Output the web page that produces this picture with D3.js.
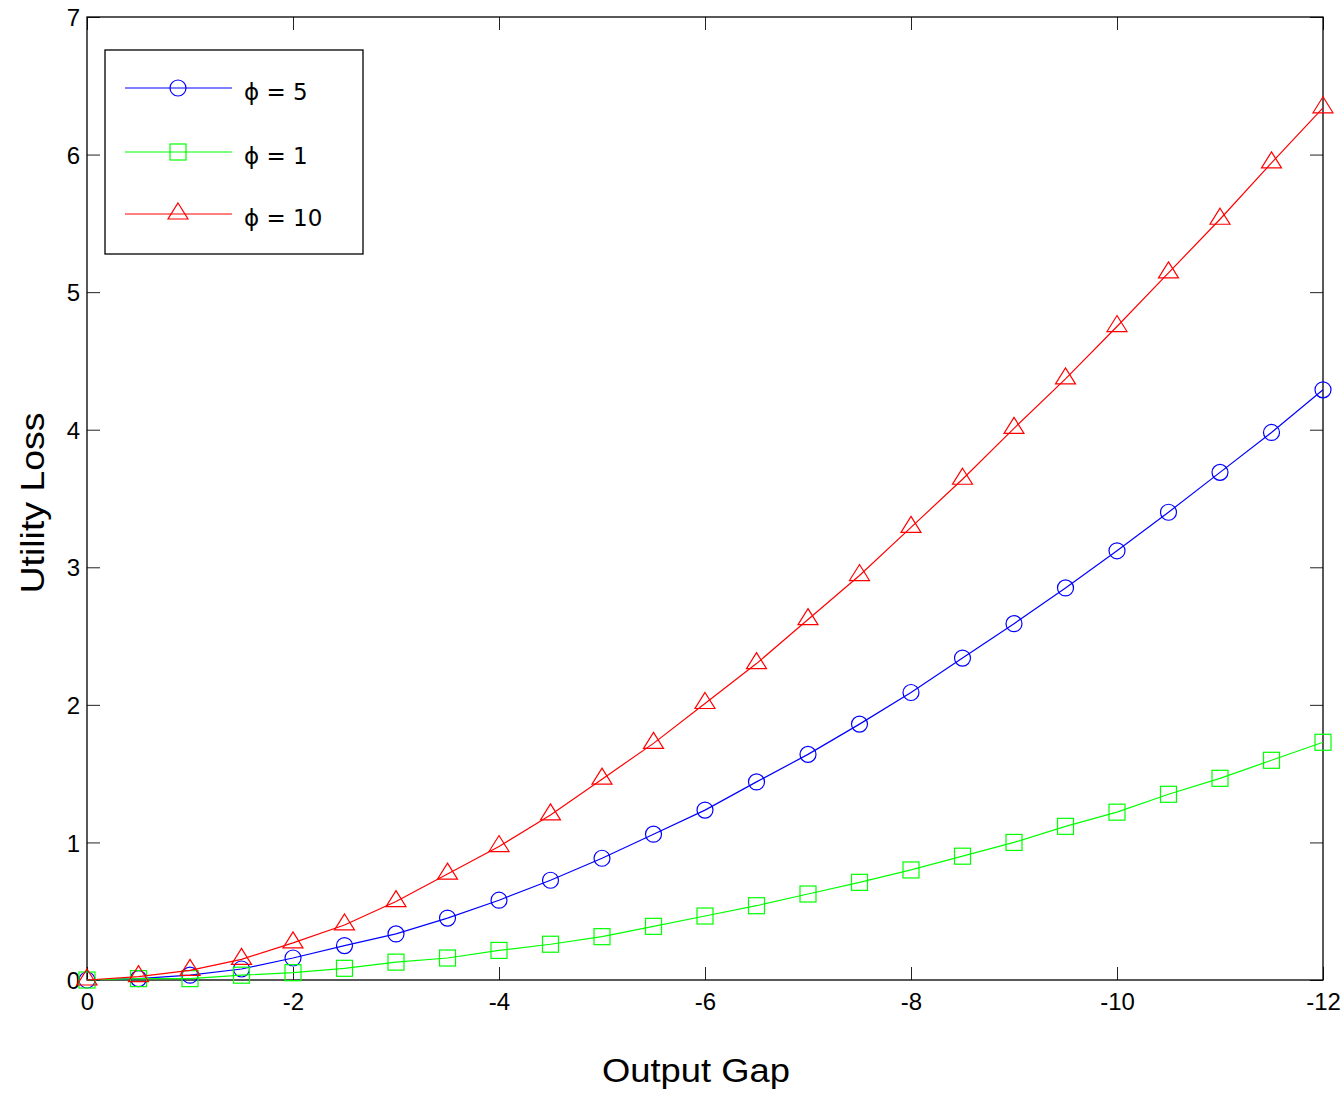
<!DOCTYPE html>
<html>
<head>
<meta charset="utf-8">
<script src="https://cdn.jsdelivr.net/npm/d3@7"></script>
<style>
  html, body { margin: 0; padding: 0; background: #fff; }
  svg { display: block; font-family: "Liberation Sans", Arial, sans-serif; }
</style>
</head>
<body>
<svg id="chart" width="1344" height="1098"></svg>
<script>
// ---- data ----
const outputGap = [0, -0.5, -1, -1.5, -2, -2.5, -3, -3.5, -4, -4.5, -5, -5.5, -6, -6.5, -7, -7.5, -8, -8.5, -9, -9.5, -10, -10.5, -11, -11.5, -12];
const lossPhi5  = [0, 0.01, 0.035, 0.08, 0.16, 0.25, 0.335, 0.45, 0.58, 0.725, 0.885, 1.06, 1.235, 1.44, 1.64, 1.86, 2.09, 2.34, 2.59, 2.85, 3.12, 3.40, 3.69, 3.98, 4.29];
const lossPhi1  = [0, 0.01, 0.01, 0.035, 0.053, 0.085, 0.13, 0.16, 0.215, 0.26, 0.315, 0.39, 0.465, 0.54, 0.625, 0.71, 0.80, 0.90, 1.00, 1.117, 1.22, 1.35, 1.466, 1.597, 1.728];
const lossPhi10 = [0, 0.025, 0.07, 0.15, 0.27, 0.40, 0.57, 0.77, 0.97, 1.20, 1.46, 1.72, 2.01, 2.30, 2.62, 2.94, 3.29, 3.64, 4.01, 4.37, 4.75, 5.14, 5.53, 5.94, 6.34];
const seriesNames = ["\u03D5 = 5", "\u03D5 = 1", "\u03D5 = 10"];
const xTicks = [0, -2, -4, -6, -8, -10, -12];
const xTickLabels = ["0", "-2", "-4", "-6", "-8", "-10", "-12"];
const yTicks = [0, 1, 2, 3, 4, 5, 6, 7];
const yTickLabels = ["0", "1", "2", "3", "4", "5", "6", "7"];
const xLabel = "Output Gap";
const yLabel = "Utility Loss";

const series = [
  { name: seriesNames[0], values: lossPhi5,  color: "#0000ff", marker: "circle" },
  { name: seriesNames[1], values: lossPhi1,  color: "#00ff00", marker: "square" },
  { name: seriesNames[2], values: lossPhi10, color: "#ff0000", marker: "triangle" }
];

// ---- layout ----
const L = 87, R = 1323, T = 17, B = 980;
const svg = d3.select("#chart");
const x = d3.scaleLinear().domain([0, -12]).range([L, R]);
const y = d3.scaleLinear().domain([0, 7]).range([B, T]);
const tickLen = 13;
const FONT = "'Liberation Sans', Arial, sans-serif";

// axes (ticks inside, box)
const axisFont = 24;
const gB = svg.append("g").attr("transform", `translate(0,${B})`)
  .call(d3.axisBottom(x).tickValues(xTicks).tickSizeInner(-tickLen).tickSizeOuter(0)
    .tickFormat((d, i) => xTickLabels[i]));
const gT = svg.append("g").attr("transform", `translate(0,${T})`)
  .call(d3.axisTop(x).tickValues(xTicks).tickSizeInner(-tickLen).tickSizeOuter(0).tickFormat(""));
const gL = svg.append("g").attr("transform", `translate(${L},0)`)
  .call(d3.axisLeft(y).tickValues(yTicks).tickSizeInner(-tickLen).tickSizeOuter(0)
    .tickFormat((d, i) => yTickLabels[i]));
const gR = svg.append("g").attr("transform", `translate(${R},0)`)
  .call(d3.axisRight(y).tickValues(yTicks).tickSizeInner(-tickLen).tickSizeOuter(0).tickFormat(""));
[gB, gT, gL, gR].forEach(g => {
  g.select(".domain").remove();
  g.selectAll(".tick line").attr("stroke", "#222").attr("stroke-width", 1);
  g.selectAll("text").attr("fill", "#000").attr("font-size", axisFont).attr("font-family", FONT);
});
gB.selectAll("text").attr("dy", null).attr("y", 30);
gL.selectAll("text").attr("x", -7).attr("dy", "0.36em");

// frame
svg.append("rect").attr("x", L).attr("y", T).attr("width", R - L).attr("height", B - T)
  .attr("fill", "none").attr("stroke", "#000").attr("stroke-width", 1.3);

// markers
function drawMarker(sel, type, color) {
  if (type === "circle") {
    sel.append("circle").attr("r", 8).attr("fill", "none").attr("stroke", color).attr("stroke-width", 1.2);
  } else if (type === "square") {
    sel.append("rect").attr("x", -8).attr("y", -8).attr("width", 16).attr("height", 16)
      .attr("fill", "none").attr("stroke", color).attr("stroke-width", 1.2);
  } else {
    sel.append("path").attr("d", "M0,-11 L10,5 L-10,5 Z")
      .attr("fill", "none").attr("stroke", color).attr("stroke-width", 1.2);
  }
}

const line = d3.line().x(d => x(d[0])).y(d => y(d[1]));
series.forEach(s => {
  const pts = outputGap.map((g, i) => [g, s.values[i]]);
  svg.append("path").datum(pts).attr("d", line)
    .attr("fill", "none").attr("stroke", s.color).attr("stroke-width", 1.2);
  pts.forEach(p => {
    const g = svg.append("g").attr("transform", `translate(${x(p[0])},${y(p[1])})`);
    drawMarker(g, s.marker, s.color);
  });
});

// legend
const leg = svg.append("g");
leg.append("rect").attr("x", 105).attr("y", 50).attr("width", 258).attr("height", 204)
  .attr("fill", "#fff").attr("stroke", "#000").attr("stroke-width", 1.3);
const rowY = [88, 152, 214];
series.forEach((s, i) => {
  leg.append("line").attr("x1", 125).attr("x2", 232).attr("y1", rowY[i]).attr("y2", rowY[i])
    .attr("stroke", s.color).attr("stroke-width", 1.2);
  const g = leg.append("g").attr("transform", `translate(178,${rowY[i]})`);
  drawMarker(g, s.marker, s.color);
  leg.append("text").attr("x", 244).attr("y", rowY[i] + 12)
    .attr("font-size", 23).attr("fill", "#000")
    .attr("font-family", "'DejaVu Sans', sans-serif")
    .text(s.name);
});

// axis labels
svg.append("text").attr("x", 696).attr("y", 1082).attr("text-anchor", "middle")
  .attr("font-size", 34).attr("fill", "#000").attr("font-family", FONT)
  .attr("textLength", 188).attr("lengthAdjust", "spacingAndGlyphs")
  .text(xLabel);
svg.append("text").attr("transform", "translate(44,503) rotate(-90)").attr("text-anchor", "middle")
  .attr("font-size", 33).attr("fill", "#000").attr("font-family", FONT)
  .attr("textLength", 181).attr("lengthAdjust", "spacingAndGlyphs")
  .text(yLabel);
</script>
</body>
</html>
